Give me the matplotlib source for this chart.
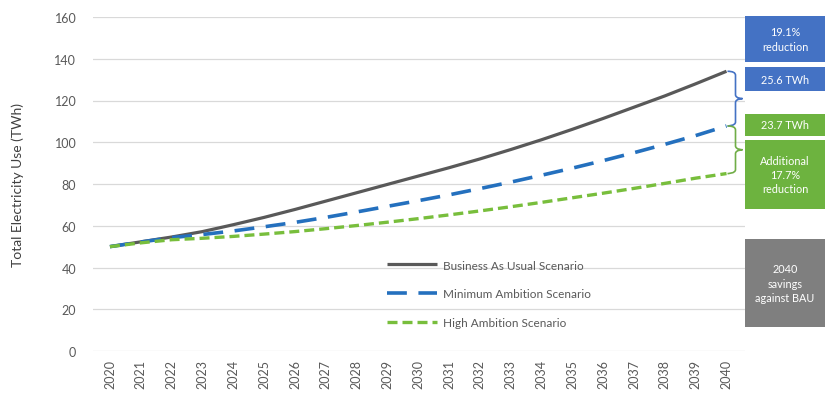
import matplotlib
matplotlib.use("Agg")
import matplotlib.pyplot as plt
from matplotlib.path import Path
from matplotlib.patches import PathPatch, Rectangle

years = list(range(2020, 2041))
bau = [50, 52.3, 54.6, 57.2, 60.5, 64.0, 67.8, 71.8, 75.8, 79.8, 83.8,
       87.8, 92.0, 96.5, 101.2, 106.2, 111.4, 116.8, 122.2, 128.0, 134.0]
min_amb = [50, 52.2, 54.3, 55.8, 57.5, 59.5, 61.6, 64.0, 66.6, 69.3, 72.0,
           74.8, 77.8, 80.9, 84.2, 87.6, 91.2, 95.0, 99.0, 103.2, 107.8]
high_amb = [50, 51.8, 53.3, 54.0, 54.9, 56.0, 57.2, 58.6, 60.1, 61.7, 63.4,
            65.2, 67.1, 69.1, 71.2, 73.4, 75.6, 77.9, 80.3, 82.8, 85.0]
series_names = ["Business As Usual Scenario", "Minimum Ambition Scenario", "High Ambition Scenario"]
yticks = [0, 20, 40, 60, 80, 100, 120, 140, 160]
box_texts = ["19.1%\nreduction", "25.6 TWh", "23.7 TWh", "Additional\n17.7%\nreduction",
             "2040\nsavings\nagainst BAU"]

plt.rcParams['font.family'] = ['Lato', 'DejaVu Sans']
W, H = 825, 406
fig = plt.figure(figsize=(W / 100, H / 100), dpi=100)
ax = fig.add_axes([93 / W, 1 - 352 / H, (745 - 93) / W, (352 - 18) / H])

x = list(range(len(years)))
c_bau, c_min, c_high = "#595959", "#2470BE", "#78BE3C"
ax.plot(x, bau, color=c_bau, lw=2.3, label=series_names[0], solid_capstyle='butt')
ax.plot(x, min_amb, color=c_min, lw=2.6, dashes=(5.5, 3.2), label=series_names[1])
ax.plot(x, high_amb, color=c_high, lw=2.4, dashes=(3.0, 1.5), label=series_names[2])

ax.set_xlim(-0.55, 20.6)
ax.set_ylim(0, 160)
ax.set_yticks(yticks)
ax.set_xticks(x)
ax.set_xticklabels([str(y) for y in years], rotation=90, fontsize=9, color="#595959")
ax.tick_params(axis='y', labelsize=9, labelcolor="#595959", length=0, pad=12)
ax.tick_params(axis='x', length=0, pad=6)
ax.grid(axis='y', color="#D9D9D9", lw=0.9)
ax.set_axisbelow(True)
for s in ax.spines.values():
    s.set_visible(False)
ax.set_ylabel("Total Electricity Use (TWh)", fontsize=10, color="#404040", labelpad=22)

leg = ax.legend(loc='upper left', bbox_to_anchor=(376 / W, 1 - 250 / H),
                bbox_transform=fig.transFigure, frameon=False, fontsize=8.5,
                handlelength=4.3, handletextpad=0.5, labelspacing=1.5, labelcolor="#595959")

def brace(y0, y1, xa, color):
    tr = ax.transData
    p_top = tr.transform((0, y0))[1]
    p_bot = tr.transform((0, y1))[1]
    w = 7
    mid = (p_top + p_bot) / 2
    verts = [
        (xa - 8, p_top), (xa, p_top), (xa, p_top - 4),
        (xa, mid + 4),
        (xa, mid), (xa + w, mid), (xa + w, mid),
        (xa + w, mid), (xa, mid), (xa, mid - 4),
        (xa, p_bot + 4),
        (xa, p_bot), (xa - 8, p_bot), (xa - 8, p_bot),
    ]
    codes = [Path.MOVETO, Path.CURVE3, Path.CURVE3,
             Path.LINETO,
             Path.CURVE4, Path.CURVE4, Path.CURVE4,
             Path.CURVE4, Path.CURVE4, Path.CURVE4,
             Path.LINETO,
             Path.CURVE4, Path.CURVE4, Path.CURVE4]
    verts = [fig.transFigure.inverted().transform(v) for v in verts]
    fig.patches.append(PathPatch(Path(verts, codes), transform=fig.transFigure,
                                 fill=False, edgecolor=color, lw=1.2))

fig.canvas.draw()
bx = ax.transData.transform((20, 0))[0] + 9
brace(bau[-1], min_amb[-1], bx, "#4472C4")
brace(min_amb[-1], high_amb[-1], bx, "#70AD47")

boxes = [
    (745, 17, 63, "#4472C4", box_texts[0]),
    (745, 68, 92, "#4472C4", box_texts[1]),
    (745, 115, 137, "#6DB33F", box_texts[2]),
    (745, 141, 210, "#6DB33F", box_texts[3]),
    (745, 240, 328, "#7F7F7F", box_texts[4]),
]
for xl, yt, yb, col, txt in boxes:
    fig.patches.append(Rectangle((xl / W, 1 - yb / H), (W - xl) / W, (yb - yt) / H,
                                 transform=fig.transFigure, facecolor=col, edgecolor='none'))
    fig.text((xl + W) / 2 / W, 1 - (yt + yb) / 2 / H, txt, ha='center', va='center',
             color='white', fontsize=7.8, linespacing=1.35)

fig.savefig("out.png", dpi=100, facecolor='white')
